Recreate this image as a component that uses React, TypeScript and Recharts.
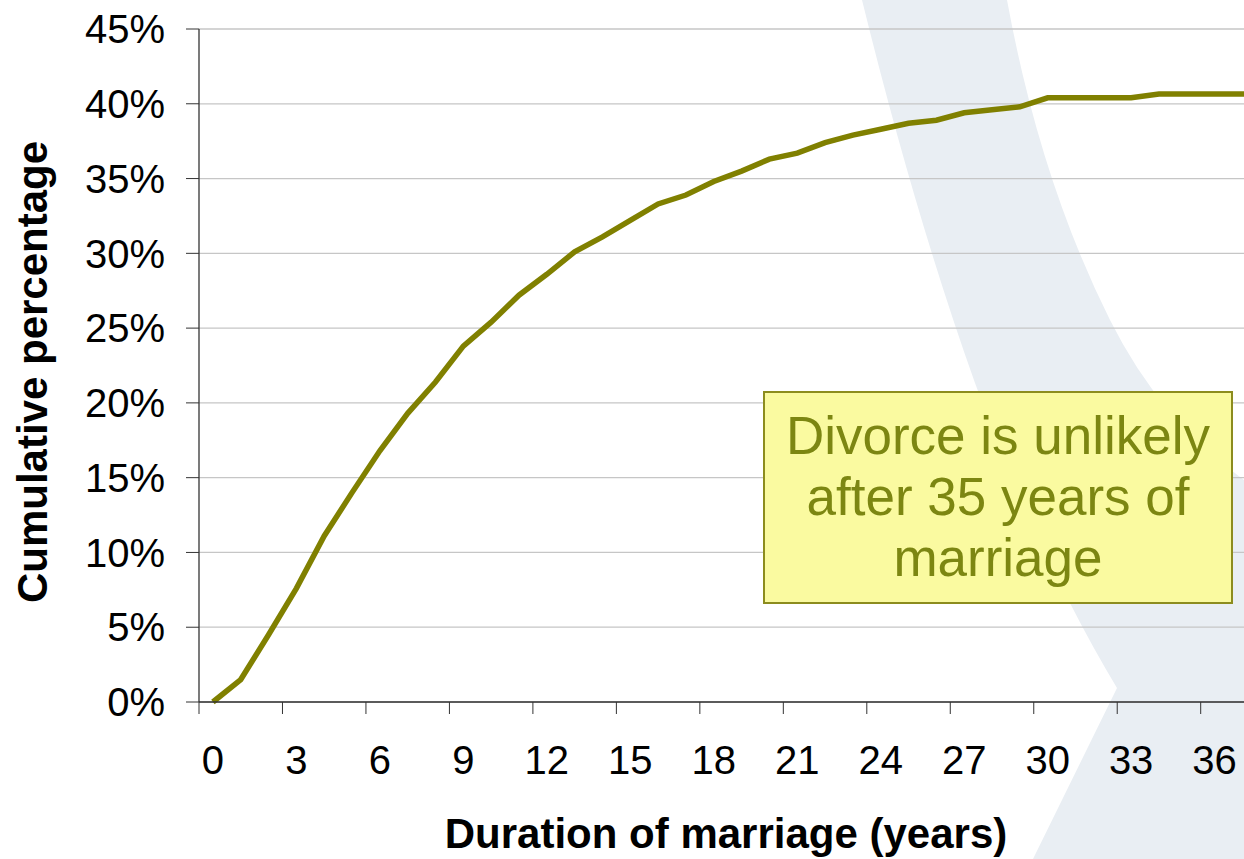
import React from 'react';
import { LineChart, Line, XAxis, YAxis, CartesianGrid } from 'recharts';

// duration of marriage in years, and cumulative % of marriages ended in divorce
const years = [
  0, 1, 2, 3, 4, 5, 6, 7, 8, 9, 10, 11, 12, 13, 14, 15, 16, 17, 18, 19,
  20, 21, 22, 23, 24, 25, 26, 27, 28, 29, 30, 31, 32, 33, 34, 35, 36, 37, 38,
];
const cumulativePct = [
  0, 1.5, 4.5, 7.6, 11.1, 14.0, 16.8, 19.3, 21.4, 23.8, 25.4, 27.2, 28.6, 30.1, 31.1, 32.2,
  33.3, 33.9, 34.8, 35.5, 36.3, 36.7, 37.4, 37.9, 38.3, 38.7, 38.9, 39.4, 39.6, 39.8,
  40.4, 40.4, 40.4, 40.4, 40.65, 40.65, 40.65, 40.65, 40.65,
];
const yTicks = [0, 5, 10, 15, 20, 25, 30, 35, 40, 45];
const xTicks = [0, 3, 6, 9, 12, 15, 18, 21, 24, 27, 30, 33, 36];
const noteLines = ['Divorce is unlikely', 'after 35 years of', 'marriage'];

const data = years.map((year, i) => ({ year, pct: cumulativePct[i] }));

const CHART_W = 1320;
const CHART_H = 859;
const Y_AXIS_W = 199;
const RIGHT_MARGIN = 8;
const BAND = (CHART_W - Y_AXIS_W - RIGHT_MARGIN) / 40;

const OLIVE = '#808000';
const AXIS = '#333';

const XTick = (props: any) => {
  const { x, y, payload } = props;
  const bx = x - BAND / 2;
  return (
    <g>
      <line x1={bx} x2={bx} y1={y} y2={y + 12} stroke={AXIS} strokeWidth={1} />
      <text x={x} y={y + 44} dy="0.71em" textAnchor="middle" fontSize={40} fill="#000">
        {payload.value}
      </text>
    </g>
  );
};

export default function App() {
  return (
    <div
      style={{
        position: 'absolute',
        left: 0,
        top: 0,
        width: 1244,
        height: 859,
        overflow: 'hidden',
        background: '#fff',
        fontFamily: '"Liberation Sans", Arial, sans-serif',
      }}
    >
      {/* slide template swoosh behind the chart */}
      <svg width={1244} height={859} style={{ position: 'absolute', left: 0, top: 0 }}>
        <path
          d="M862,0 L1007,0 Q1040,180 1110,320 Q1160,420 1244,480 L1244,859 L1033,859 L1117,688 Q1040,560 975,383 Q915,215 862,0 Z"
          fill="#E9EEF3"
        />
      </svg>

      <div style={{ position: 'absolute', left: 0, top: 0 }}>
        <LineChart
          width={CHART_W}
          height={CHART_H}
          data={data}
          margin={{ top: 29, right: RIGHT_MARGIN, bottom: 0, left: 0 }}
        >
          <CartesianGrid vertical={false} stroke="#c6c6c6" strokeWidth={1.3} />
          <XAxis
            dataKey="year"
            type="number"
            domain={[-0.5, 39.5]}
            ticks={xTicks}
            interval={0}
            height={157}
            tickSize={0}
            tickMargin={0}
            tickLine={false}
            tick={<XTick />}
            axisLine={{ stroke: AXIS, strokeWidth: 1.3 }}
          />
          <YAxis
            width={Y_AXIS_W}
            domain={[0, 45]}
            ticks={yTicks}
            interval={0}
            tickSize={13}
            tickMargin={21}
            tickFormatter={(v: number) => `${v}%`}
            tick={{ fill: '#000', fontSize: 40 }}
            tickLine={{ stroke: AXIS }}
            axisLine={{ stroke: AXIS, strokeWidth: 1.3 }}
          />
          <Line
            type="linear"
            dataKey="pct"
            stroke={OLIVE}
            strokeWidth={5.5}
            dot={false}
            isAnimationActive={false}
          />
        </LineChart>
      </div>

      <svg
        width={1244}
        height={859}
        style={{ position: 'absolute', left: 0, top: 0, pointerEvents: 'none' }}
      >
        <text
          x={47}
          y={372}
          transform="rotate(-90 47 372)"
          textAnchor="middle"
          fontSize={42}
          fontWeight="bold"
          fill="#000"
        >
          Cumulative percentage
        </text>
        <text x={726} y={848} textAnchor="middle" fontSize={42} fontWeight="bold" fill="#000">
          Duration of marriage (years)
        </text>
      </svg>

      <div
        style={{
          position: 'absolute',
          left: 763,
          top: 391,
          width: 470,
          height: 213,
          boxSizing: 'border-box',
          background: '#FAFAA0',
          border: '2px solid #8C8C1E',
          color: '#7C8612',
          fontSize: 53,
          lineHeight: '61px',
          textAlign: 'center',
          paddingTop: 12,
        }}
      >
        {noteLines.map((l) => (
          <div key={l}>{l}</div>
        ))}
      </div>
    </div>
  );
}
